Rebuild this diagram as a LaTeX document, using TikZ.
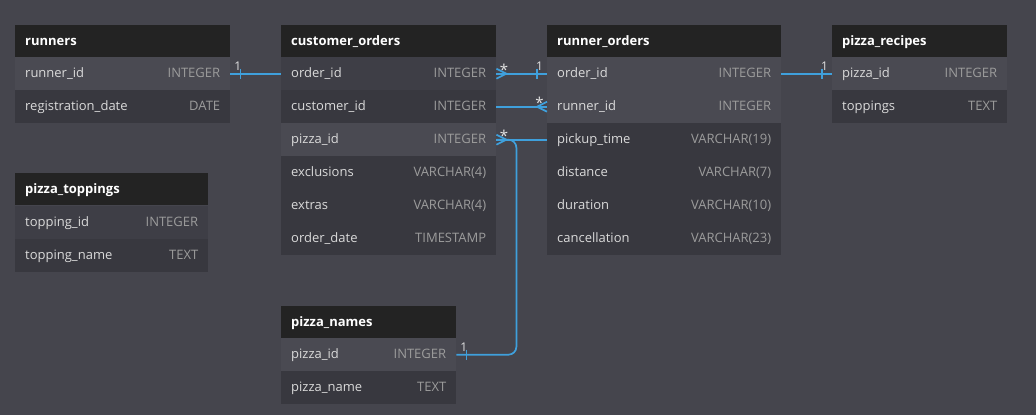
\documentclass[tikz,border=0pt]{standalone}
\usepackage{fontspec}
\setmainfont{Open Sans}
\usetikzlibrary{calc}
\definecolor{bgc}{HTML}{45454D}
\definecolor{hdc}{HTML}{232323}
\definecolor{rowl}{HTML}{4A4A52}
\definecolor{rowm}{HTML}{3E3E46}
\definecolor{rowd}{HTML}{38383F}
\definecolor{fldc}{HTML}{DADADA}
\definecolor{typc}{HTML}{9C9C9C}
\definecolor{lnc}{HTML}{3FA0DC}
\definecolor{cardc}{HTML}{E2E2E2}
\pgfdeclarelayer{back}
\pgfdeclarelayer{lines}
\pgfsetlayers{back,lines,main}
\tikzset{
  hdbox/.style={draw=none, fill=hdc, anchor=north west, minimum height=32pt, inner sep=0pt},
  rowbox/.style={draw=none, anchor=north west, minimum height=33pt, inner sep=0pt},
  txtbase/.style={inner sep=0pt, text height=10.5pt, text depth=2.5pt, font=\fontsize{13}{15}\selectfont},
  hdtxt/.style={txtbase, anchor=west, xshift=10pt, text=white, font=\fontsize{13}{15}\selectfont\bfseries},
  fld/.style={txtbase, anchor=west, xshift=10pt, text=fldc},
  typ/.style={txtbase, anchor=east, xshift=-10pt, text=typc},
  conn/.style={draw=lnc, line width=1.7pt},
  card/.style={inner sep=0pt, anchor=base, text=cardc, font=\fontsize{12}{14}\selectfont},
  starlbl/.style={inner sep=0pt, anchor=base, text=cardc, font=\fontsize{15}{17}\selectfont},
}
\newcommand\tblhead[5]{%
  \node[hdbox, minimum width=#4pt] (#1) at (#2,#3) {};
  \node[hdtxt] at (#1.west) {#5};}
\newcommand\fieldrow[7]{%
  \node[rowbox, minimum width=#4pt, fill=#5] (#1) at (#2,#3) {};
  \node[fld] at (#1.west) {#6};
  \node[typ] at (#1.east) {#7};}
\begin{document}
\begin{tikzpicture}[x=1pt,y=-1pt]
\useasboundingbox (0,0) rectangle (1036,415);
\begin{pgfonlayer}{back}
\fill[bgc] (0,0) rectangle (1036,415);
\end{pgfonlayer}
% runners
\tblhead{rrH}{15}{25}{215}{runners}
\fieldrow{rrRid}{15}{57}{215}{rowl}{runner\_id}{INTEGER}
\fieldrow{rrReg}{15}{90}{215}{rowd}{registration\_date}{DATE}
% customer_orders
\tblhead{coH}{281}{25}{215}{customer\_orders}
\fieldrow{coOid}{281}{57}{215}{rowm}{order\_id}{INTEGER}
\fieldrow{coCid}{281}{90}{215}{rowd}{customer\_id}{INTEGER}
\fieldrow{coPid}{281}{123}{215}{rowl}{pizza\_id}{INTEGER}
\fieldrow{coExc}{281}{156}{215}{rowd}{exclusions}{VARCHAR(4)}
\fieldrow{coExt}{281}{189}{215}{rowd}{extras}{VARCHAR(4)}
\fieldrow{coDate}{281}{222}{215}{rowd}{order\_date}{TIMESTAMP}
% runner_orders
\tblhead{roH}{547}{25}{234}{runner\_orders}
\fieldrow{roOid}{547}{57}{234}{rowl}{order\_id}{INTEGER}
\fieldrow{roRid}{547}{90}{234}{rowl}{runner\_id}{INTEGER}
\fieldrow{roPick}{547}{123}{234}{rowd}{pickup\_time}{VARCHAR(19)}
\fieldrow{roDist}{547}{156}{234}{rowd}{distance}{VARCHAR(7)}
\fieldrow{roDur}{547}{189}{234}{rowd}{duration}{VARCHAR(10)}
\fieldrow{roCanc}{547}{222}{234}{rowd}{cancellation}{VARCHAR(23)}
% pizza_recipes
\tblhead{prH}{832}{25}{175}{pizza\_recipes}
\fieldrow{prPid}{832}{57}{175}{rowl}{pizza\_id}{INTEGER}
\fieldrow{prTop}{832}{90}{175}{rowd}{toppings}{TEXT}
% pizza_toppings
\tblhead{ptH}{15}{173}{193}{pizza\_toppings}
\fieldrow{ptTid}{15}{206}{193}{rowm}{topping\_id}{INTEGER}
\fieldrow{ptTname}{15}{239}{193}{rowd}{topping\_name}{TEXT}
% pizza_names
\tblhead{pnH}{281}{306}{175}{pizza\_names}
\fieldrow{pnPid}{281}{338}{175}{rowl}{pizza\_id}{INTEGER}
\fieldrow{pnName}{281}{371}{175}{rowd}{pizza\_name}{TEXT}
% connectors
\begin{pgfonlayer}{lines}
\draw[conn] (rrRid.east) -- (rrRid.east -| coOid.center) |- (roRid.west);
\draw[conn] (coOid.east) -- (roOid.west);
\draw[conn] (coPid.east) -- (coPid.east -| roOid.center) |- (prPid.west);
\draw[conn, rounded corners=8pt] (pnPid.east) -| ($(coPid.east)+(20,0)$) -- (coPid.east);
\end{pgfonlayer}
% one-side ticks
\draw[conn] ($(rrRid.east)+(10,-5)$) -- ++(0,10);
\draw[conn] ($(roOid.west)+(-10,-5)$) -- ++(0,10);
\draw[conn] ($(prPid.west)+(-10,-5)$) -- ++(0,10);
\draw[conn] ($(pnPid.east)+(10,-5)$) -- ++(0,10);
% many-side crow's feet
\draw[conn] ($(coOid.east)+(0,-5)$) -- ($(coOid.east)+(10,0)$) -- ($(coOid.east)+(0,5)$);
\draw[conn] ($(coPid.east)+(0,-5)$) -- ($(coPid.east)+(10,0)$) -- ($(coPid.east)+(0,5)$);
\draw[conn] ($(roRid.west)+(0,-5)$) -- ($(roRid.west)+(-10,0)$) -- ($(roRid.west)+(0,5)$);
% cardinality labels
\node[card] (c1) at ($(rrRid.east)+(7.5,-3.5)$) {1};
\node[card] (c2) at ($(roOid.west)+(-7.5,-3.5)$) {1};
\node[card] (c3) at ($(prPid.west)+(-7.5,-3.5)$) {1};
\node[card] (c4) at ($(pnPid.east)+(7.5,-3.5)$) {1};
\node[starlbl] (s1) at ($(coOid.east)+(7.5,1.5)$) {*};
\node[starlbl] (s2) at ($(coPid.east)+(7.5,1.5)$) {*};
\node[starlbl] (s3) at ($(roRid.west)+(-7.5,1.5)$) {*};
\end{tikzpicture}
\end{document}
